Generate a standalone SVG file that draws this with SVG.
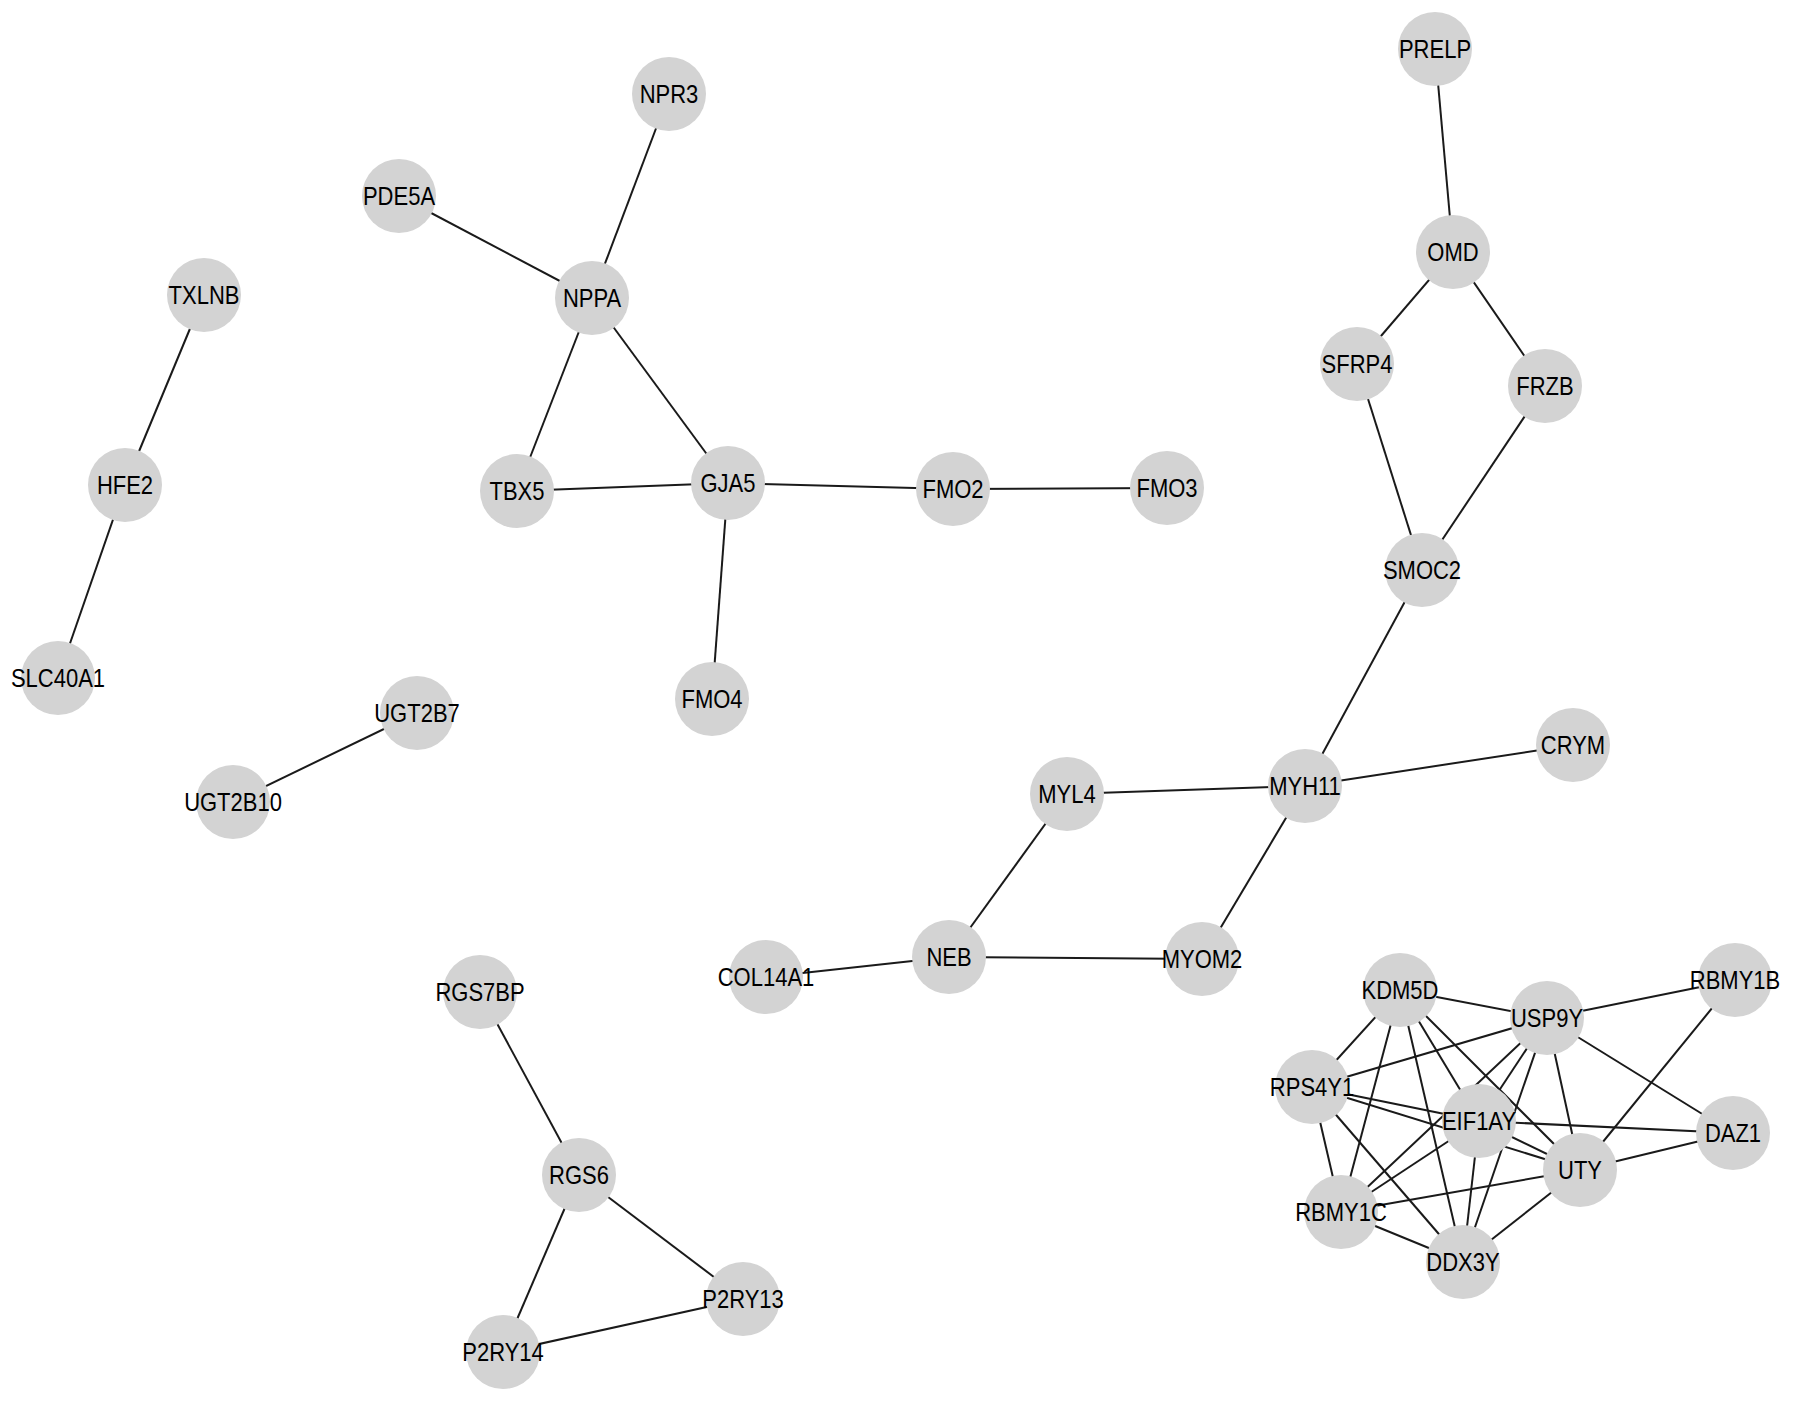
<svg xmlns="http://www.w3.org/2000/svg" width="1795" height="1404" viewBox="0 0 1795 1404">
<style>
.e{stroke:#1a1a1a;stroke-width:2;fill:none}
.n circle{fill:#d3d3d3;stroke:none}
.n text{font-family:"Liberation Sans",Arial,sans-serif;font-size:25px;fill:#000;text-anchor:middle}
</style>
<rect width="1795" height="1404" fill="#ffffff"/>
<g id="edges">
<line class="e" x1="1435" y1="49" x2="1453" y2="252"/>
<line class="e" x1="1453" y1="252" x2="1357" y2="364"/>
<line class="e" x1="1453" y1="252" x2="1545" y2="386"/>
<line class="e" x1="1357" y1="364" x2="1422" y2="570"/>
<line class="e" x1="1545" y1="386" x2="1422" y2="570"/>
<line class="e" x1="1422" y1="570" x2="1305" y2="786"/>
<line class="e" x1="1305" y1="786" x2="1573" y2="745"/>
<line class="e" x1="1305" y1="786" x2="1067" y2="794"/>
<line class="e" x1="1305" y1="786" x2="1202" y2="959"/>
<line class="e" x1="1067" y1="794" x2="949" y2="957"/>
<line class="e" x1="949" y1="957" x2="1202" y2="959"/>
<line class="e" x1="949" y1="957" x2="766" y2="977"/>
<line class="e" x1="669" y1="94" x2="592" y2="298"/>
<line class="e" x1="399" y1="196" x2="592" y2="298"/>
<line class="e" x1="592" y1="298" x2="517" y2="491"/>
<line class="e" x1="592" y1="298" x2="728" y2="483"/>
<line class="e" x1="517" y1="491" x2="728" y2="483"/>
<line class="e" x1="728" y1="483" x2="953" y2="489"/>
<line class="e" x1="953" y1="489" x2="1167" y2="488"/>
<line class="e" x1="728" y1="483" x2="712" y2="699"/>
<line class="e" x1="204" y1="295" x2="125" y2="485"/>
<line class="e" x1="125" y1="485" x2="58" y2="678"/>
<line class="e" x1="417" y1="713" x2="233" y2="802"/>
<line class="e" x1="480" y1="992" x2="579" y2="1175"/>
<line class="e" x1="579" y1="1175" x2="503" y2="1352"/>
<line class="e" x1="579" y1="1175" x2="743" y2="1299"/>
<line class="e" x1="743" y1="1299" x2="503" y2="1352"/>
<line class="e" x1="1400" y1="990" x2="1547" y2="1018"/>
<line class="e" x1="1547" y1="1018" x2="1735" y2="980"/>
<line class="e" x1="1400" y1="990" x2="1312" y2="1087"/>
<line class="e" x1="1400" y1="990" x2="1341" y2="1212"/>
<line class="e" x1="1400" y1="990" x2="1463" y2="1262"/>
<line class="e" x1="1400" y1="990" x2="1479" y2="1121"/>
<line class="e" x1="1400" y1="990" x2="1580" y2="1170"/>
<line class="e" x1="1547" y1="1018" x2="1312" y2="1087"/>
<line class="e" x1="1547" y1="1018" x2="1479" y2="1121"/>
<line class="e" x1="1547" y1="1018" x2="1341" y2="1212"/>
<line class="e" x1="1547" y1="1018" x2="1463" y2="1262"/>
<line class="e" x1="1547" y1="1018" x2="1580" y2="1170"/>
<line class="e" x1="1547" y1="1018" x2="1733" y2="1133"/>
<line class="e" x1="1735" y1="980" x2="1580" y2="1170"/>
<line class="e" x1="1312" y1="1087" x2="1479" y2="1121"/>
<line class="e" x1="1312" y1="1087" x2="1580" y2="1170"/>
<line class="e" x1="1312" y1="1087" x2="1341" y2="1212"/>
<line class="e" x1="1312" y1="1087" x2="1463" y2="1262"/>
<line class="e" x1="1479" y1="1121" x2="1733" y2="1133"/>
<line class="e" x1="1479" y1="1121" x2="1580" y2="1170"/>
<line class="e" x1="1479" y1="1121" x2="1341" y2="1212"/>
<line class="e" x1="1479" y1="1121" x2="1463" y2="1262"/>
<line class="e" x1="1341" y1="1212" x2="1580" y2="1170"/>
<line class="e" x1="1341" y1="1212" x2="1463" y2="1262"/>
<line class="e" x1="1463" y1="1262" x2="1580" y2="1170"/>
<line class="e" x1="1580" y1="1170" x2="1733" y2="1133"/>
</g>
<g id="node-PRELP" class="n"><circle cx="1435" cy="49" r="37"/><text transform="translate(1435 49) scale(0.88 1)" dy="0.36em">PRELP</text></g>
<g id="node-OMD" class="n"><circle cx="1453" cy="252" r="37"/><text transform="translate(1453 252) scale(0.88 1)" dy="0.36em">OMD</text></g>
<g id="node-SFRP4" class="n"><circle cx="1357" cy="364" r="37"/><text transform="translate(1357 364) scale(0.88 1)" dy="0.36em">SFRP4</text></g>
<g id="node-FRZB" class="n"><circle cx="1545" cy="386" r="37"/><text transform="translate(1545 386) scale(0.88 1)" dy="0.36em">FRZB</text></g>
<g id="node-SMOC2" class="n"><circle cx="1422" cy="570" r="37"/><text transform="translate(1422 570) scale(0.88 1)" dy="0.36em">SMOC2</text></g>
<g id="node-NPR3" class="n"><circle cx="669" cy="94" r="37"/><text transform="translate(669 94) scale(0.88 1)" dy="0.36em">NPR3</text></g>
<g id="node-PDE5A" class="n"><circle cx="399" cy="196" r="37"/><text transform="translate(399 196) scale(0.88 1)" dy="0.36em">PDE5A</text></g>
<g id="node-NPPA" class="n"><circle cx="592" cy="298" r="37"/><text transform="translate(592 298) scale(0.88 1)" dy="0.36em">NPPA</text></g>
<g id="node-TXLNB" class="n"><circle cx="204" cy="295" r="37"/><text transform="translate(204 295) scale(0.88 1)" dy="0.36em">TXLNB</text></g>
<g id="node-HFE2" class="n"><circle cx="125" cy="485" r="37"/><text transform="translate(125 485) scale(0.88 1)" dy="0.36em">HFE2</text></g>
<g id="node-SLC40A1" class="n"><circle cx="58" cy="678" r="37"/><text transform="translate(58 678) scale(0.88 1)" dy="0.36em">SLC40A1</text></g>
<g id="node-TBX5" class="n"><circle cx="517" cy="491" r="37"/><text transform="translate(517 491) scale(0.88 1)" dy="0.36em">TBX5</text></g>
<g id="node-GJA5" class="n"><circle cx="728" cy="483" r="37"/><text transform="translate(728 483) scale(0.88 1)" dy="0.36em">GJA5</text></g>
<g id="node-FMO2" class="n"><circle cx="953" cy="489" r="37"/><text transform="translate(953 489) scale(0.88 1)" dy="0.36em">FMO2</text></g>
<g id="node-FMO3" class="n"><circle cx="1167" cy="488" r="37"/><text transform="translate(1167 488) scale(0.88 1)" dy="0.36em">FMO3</text></g>
<g id="node-FMO4" class="n"><circle cx="712" cy="699" r="37"/><text transform="translate(712 699) scale(0.88 1)" dy="0.36em">FMO4</text></g>
<g id="node-UGT2B7" class="n"><circle cx="417" cy="713" r="37"/><text transform="translate(417 713) scale(0.88 1)" dy="0.36em">UGT2B7</text></g>
<g id="node-UGT2B10" class="n"><circle cx="233" cy="802" r="37"/><text transform="translate(233 802) scale(0.88 1)" dy="0.36em">UGT2B10</text></g>
<g id="node-RGS7BP" class="n"><circle cx="480" cy="992" r="37"/><text transform="translate(480 992) scale(0.88 1)" dy="0.36em">RGS7BP</text></g>
<g id="node-RGS6" class="n"><circle cx="579" cy="1175" r="37"/><text transform="translate(579 1175) scale(0.88 1)" dy="0.36em">RGS6</text></g>
<g id="node-P2RY13" class="n"><circle cx="743" cy="1299" r="37"/><text transform="translate(743 1299) scale(0.88 1)" dy="0.36em">P2RY13</text></g>
<g id="node-P2RY14" class="n"><circle cx="503" cy="1352" r="37"/><text transform="translate(503 1352) scale(0.88 1)" dy="0.36em">P2RY14</text></g>
<g id="node-COL14A1" class="n"><circle cx="766" cy="977" r="37"/><text transform="translate(766 977) scale(0.88 1)" dy="0.36em">COL14A1</text></g>
<g id="node-MYL4" class="n"><circle cx="1067" cy="794" r="37"/><text transform="translate(1067 794) scale(0.88 1)" dy="0.36em">MYL4</text></g>
<g id="node-MYH11" class="n"><circle cx="1305" cy="786" r="37"/><text transform="translate(1305 786) scale(0.88 1)" dy="0.36em">MYH11</text></g>
<g id="node-CRYM" class="n"><circle cx="1573" cy="745" r="37"/><text transform="translate(1573 745) scale(0.88 1)" dy="0.36em">CRYM</text></g>
<g id="node-NEB" class="n"><circle cx="949" cy="957" r="37"/><text transform="translate(949 957) scale(0.88 1)" dy="0.36em">NEB</text></g>
<g id="node-MYOM2" class="n"><circle cx="1202" cy="959" r="37"/><text transform="translate(1202 959) scale(0.88 1)" dy="0.36em">MYOM2</text></g>
<g id="node-KDM5D" class="n"><circle cx="1400" cy="990" r="37"/><text transform="translate(1400 990) scale(0.88 1)" dy="0.36em">KDM5D</text></g>
<g id="node-USP9Y" class="n"><circle cx="1547" cy="1018" r="37"/><text transform="translate(1547 1018) scale(0.88 1)" dy="0.36em">USP9Y</text></g>
<g id="node-RBMY1B" class="n"><circle cx="1735" cy="980" r="37"/><text transform="translate(1735 980) scale(0.88 1)" dy="0.36em">RBMY1B</text></g>
<g id="node-RPS4Y1" class="n"><circle cx="1312" cy="1087" r="37"/><text transform="translate(1312 1087) scale(0.88 1)" dy="0.36em">RPS4Y1</text></g>
<g id="node-EIF1AY" class="n"><circle cx="1479" cy="1121" r="37"/><text transform="translate(1479 1121) scale(0.88 1)" dy="0.36em">EIF1AY</text></g>
<g id="node-DAZ1" class="n"><circle cx="1733" cy="1133" r="37"/><text transform="translate(1733 1133) scale(0.88 1)" dy="0.36em">DAZ1</text></g>
<g id="node-UTY" class="n"><circle cx="1580" cy="1170" r="37"/><text transform="translate(1580 1170) scale(0.88 1)" dy="0.36em">UTY</text></g>
<g id="node-RBMY1C" class="n"><circle cx="1341" cy="1212" r="37"/><text transform="translate(1341 1212) scale(0.88 1)" dy="0.36em">RBMY1C</text></g>
<g id="node-DDX3Y" class="n"><circle cx="1463" cy="1262" r="37"/><text transform="translate(1463 1262) scale(0.88 1)" dy="0.36em">DDX3Y</text></g>
</svg>
